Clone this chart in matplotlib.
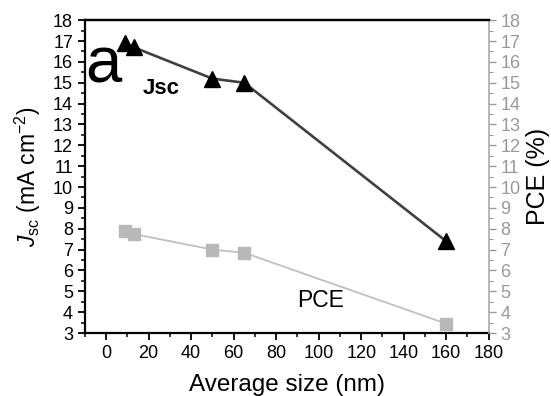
import matplotlib
matplotlib.use("Agg")
import matplotlib.pyplot as plt
from matplotlib.ticker import MultipleLocator

plt.rcParams['font.family'] = ['Liberation Sans', 'DejaVu Sans']
plt.rcParams['mathtext.fontset'] = 'custom'
plt.rcParams['mathtext.rm'] = 'Liberation Sans'
plt.rcParams['mathtext.it'] = 'Liberation Sans:italic'

size_nm = [9, 13, 50, 65, 160]
jsc = [16.9, 16.7, 15.2, 15.0, 7.4]
pce = [7.9, 7.75, 7.0, 6.85, 3.45]

fig = plt.figure(figsize=(5.51, 3.96), dpi=100)
ax = fig.add_axes([0.154, 0.159, 0.733, 0.79])
ax2 = ax.twinx()

ax.plot(size_nm, jsc, color='#404040', lw=1.9, marker='^', ms=11,
        mfc='black', mec='black', zorder=3)
ax2.plot(size_nm, pce, color='#c0c0c0', lw=1.3, marker='s', ms=8.5,
         mfc='#b8b8b8', mec='#b8b8b8', zorder=3)

ax.set_xlim(-10, 180)
ax.set_ylim(3, 18)
ax2.set_ylim(3, 18)

ax.xaxis.set_major_locator(MultipleLocator(20))
ax.xaxis.set_minor_locator(MultipleLocator(10))
ax.yaxis.set_major_locator(MultipleLocator(1))
ax.yaxis.set_minor_locator(MultipleLocator(0.5))
ax2.yaxis.set_major_locator(MultipleLocator(1))
ax2.yaxis.set_minor_locator(MultipleLocator(0.5))

ax.tick_params(axis='both', which='major', direction='out', length=5, width=1.3,
               labelsize=13, colors='black')
ax.tick_params(axis='both', which='minor', direction='out', length=3, width=1.1)
ax.tick_params(axis='x', top=False, which='both')
ax.tick_params(axis='y', right=False, which='both')
ax2.tick_params(axis='y', which='major', direction='out', length=5, width=1,
                labelsize=13, colors='#999999', labelcolor='#999999')
ax2.tick_params(axis='y', which='minor', direction='out', length=3, width=0.8,
                colors='#999999')

for s in ['left', 'bottom', 'top']:
    ax.spines[s].set_linewidth(1.6)
    ax.spines[s].set_color('black')
ax2.spines['left'].set_visible(False)
ax2.spines['bottom'].set_visible(False)
ax2.spines['top'].set_linewidth(1.6)
ax2.spines['top'].set_color('black')
ax2.spines['right'].set_color('#aaaaaa')
ax2.spines['right'].set_linewidth(1.2)
ax.spines['right'].set_visible(False)

ax.set_xlabel('Average size (nm)', fontsize=17.5, labelpad=9)
ax.set_ylabel(r'$J_{\mathrm{sc}}$ (mA cm$^{-2}$)', fontsize=16.5, labelpad=7)
ax2.set_ylabel('PCE (%)', fontsize=18, labelpad=4)

ax.text(0.0, 0.802, 'a', transform=ax.transAxes, fontsize=47,
        va='baseline', ha='left')
ax.text(0.144, 0.783, 'Jsc', transform=ax.transAxes, fontsize=16,
        fontweight='bold', va='center', ha='left')
ax.text(0.525, 0.105, 'PCE', transform=ax.transAxes, fontsize=16.5,
        va='center', ha='left')

fig.savefig('out.png', dpi=100)
